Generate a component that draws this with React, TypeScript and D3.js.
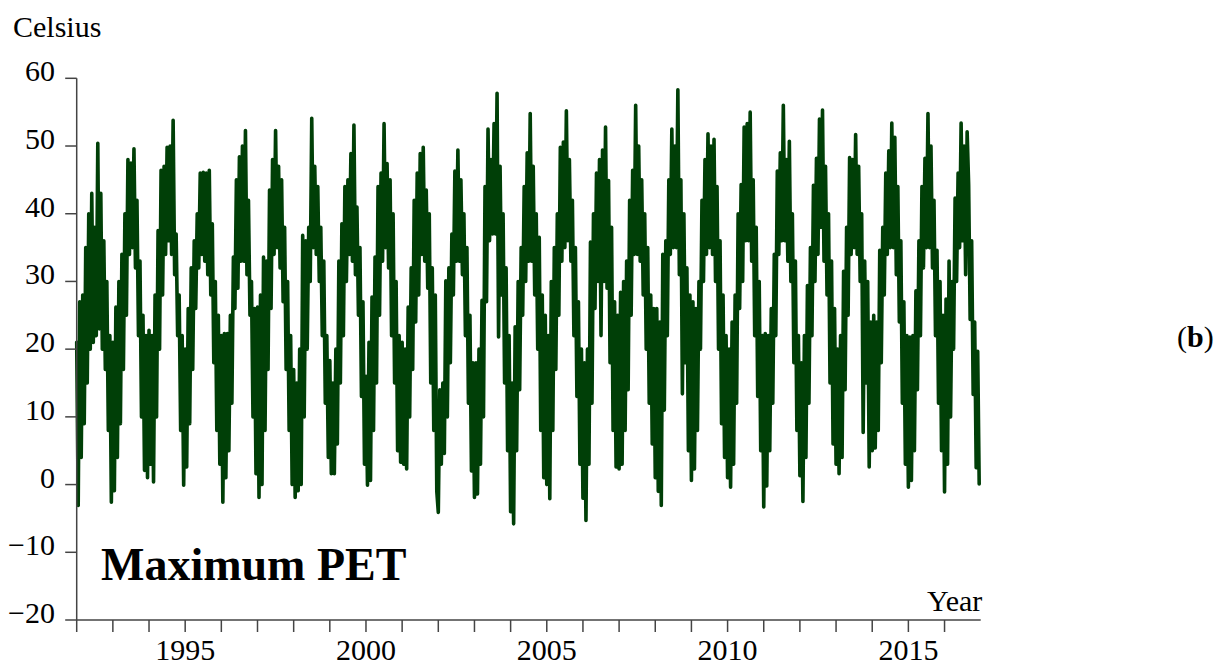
import React from "react";
import * as d3 from "d3";

// Maximum PET (Celsius) at ~half-month steps (24 samples per year),
// alternating between the upper and lower edge of the daily band.
const years = [1992, 1993, 1994, 1995, 1996, 1997, 1998, 1999, 2000, 2001, 2002, 2003, 2004, 2005, 2006, 2007, 2008, 2009, 2010, 2011, 2012, 2013, 2014, 2015, 2016];

const pet1992 = [21, -3.1, 27, 4, 28, 9, 35, 15, 40, 20, 43, 21, 38, 22, 50.4, 23, 43, 20, 36, 17, 30, 8, 22, -2.6];
const pet1993 = [21, -0.9, 26.2, 4, 30, 9, 34, 17, 40, 25, 48, 34, 47.5, 35, 49.6, 32, 42, 22, 33, 10, 25, 2.1, 22, 1];
const pet1994 = [22.8, 3, 22, 0.4, 28, 10, 37.5, 20, 46.4, 28, 47, 34, 49.8, 36, 50, 34, 53.8, 31, 37, 22, 28, 8, 22, -0.1];
const pet1995 = [20, 2.6, 26, 9, 32, 17, 36, 26, 40, 32, 46, 34, 46.1, 33, 46, 31, 46.4, 28, 38.5, 18, 30, 8, 25, 3];
const pet1996 = [22, -2.6, 22.3, 1, 22.3, 5, 25, 12, 33.6, 26, 45, 29, 48.4, 33, 50, 33, 52.3, 31, 42, 25, 30, 10, 26, 1.6];
const pet1997 = [26.2, -1.9, 28, 0, 33.6, 8, 33, 17, 43.5, 26, 48, 34, 52.3, 35, 47, 32, 45, 27, 38, 17, 30, 8, 22, 0];
const pet1998 = [17, -1.9, 15, -0.9, 20, 0, 36.8, 10, 36, 20, 38, 30, 54.1, 35, 47, 34, 44, 30, 38, 22, 33, 12, 22, 4];
const pet1999 = [18.3, 1.6, 15, 1.6, 20, 6, 33, 15, 38.5, 22, 44, 30, 45, 34, 48.9, 33, 53.1, 31, 41, 25, 35, 13, 27, 3];
const pet2000 = [16, -0.1, 21, 0.6, 27.7, 8, 33.6, 15, 44, 25, 46, 33, 53.3, 35, 47.4, 32, 45, 22, 40, 15, 30, 5, 22, 3.3];
const pet2001 = [21, 3, 20, 2.3, 26.2, 10, 32, 17, 42, 24, 46, 28, 48.9, 34, 49.8, 33, 43.5, 29, 40, 15, 32, 8, 28, -1];
const pet2002 = [-4.1, 14, 3, 15, 4.6, 30.1, 10, 32, 18, 37, 28, 46.3, 33, 49.4, 33, 45, 31, 40, 22, 35, 12, 25, 2, 18];
const pet2003 = [-1.9, 18, -1.4, 20, 3, 27.2, 10, 44, 27, 52.5, 36, 48, 37, 53.3, 37, 57.8, 21.8, 47, 28, 40, 15, 32, 5, 22];
const pet2004 = [-4, 15, -5.8, 23.3, 5, 30, 14, 35, 25, 44, 30, 49, 33, 54.8, 33, 47, 28, 40, 20, 36.5, 8, 28, 1, 25];
const pet2005 = [0, 22, -2.1, 30, 8, 35, 17, 40, 25, 49.8, 33, 50.6, 35, 55.2, 36, 48, 33, 42, 22, 35, 13, 27, 3, 20];
const pet2006 = [-2, 18, -5.3, 20, 3, 35.8, 12, 40, 26, 46, 30, 48, 22, 49.4, 30, 52.8, 29, 44.9, 18, 38, 8, 27, 2.6, 25];
const pet2007 = [2.3, 28.4, 3, 30, 8, 33, 14, 42, 25, 46.4, 34, 56, 34, 50, 33, 45, 28, 40, 20, 35, 12, 28, 6, 26];
const pet2008 = [1, 26, -1, 24, -3.1, 34, 11, 36, 22, 45, 34, 52.5, 35, 50, 35, 58.3, 31, 45, 13.4, 40, 18, 32, 5, 28];
const pet2009 = [0.6, 27, 2.3, 26, 8, 30, 20, 42, 30, 48, 34, 51.8, 35, 50, 34, 51, 30, 44, 20, 36, 9, 28, 4, 22];
const pet2010 = [1, 20, -0.4, 24, 3, 28, 12, 40, 26, 44.3, 30, 52.8, 36, 53.3, 36, 55, 33, 45, 22, 38, 13, 30, 5, 22];
const pet2011 = [-3.3, 22.3, -0.2, 22, 5, 26, 12, 34, 22, 46.3, 34, 49, 36, 56, 36, 48, 33, 50.7, 30, 40, 18, 33, 8, 22];
const pet2012 = [1.3, 18, -2.5, 22, 4, 29.4, 12, 35, 22, 44.2, 30, 48.2, 34, 54, 38, 55.3, 33, 47, 28, 40, 15, 33, 6, 26];
const pet2013 = [3, 20, 1.6, 22, 4, 31.5, 14, 38, 25, 48.3, 34, 48, 35, 51.7, 34, 47, 30, 40, 7.7, 33, 15, 30, 2.6, 24];
const pet2014 = [5, 25, 5.4, 24, 8, 34.6, 18, 38, 28, 46, 34, 49.3, 35, 53.4, 35, 51.3, 31, 44, 24, 36, 12, 27, 3, 22];
const pet2015 = [-0.4, 21.8, 0.6, 22, 5, 28.6, 14, 36, 22, 44, 32, 48.2, 35, 54.8, 35, 50, 32, 42, 22, 34.6, 12, 30, 5, 25];
const pet2016 = [-1.1, 27.4, 3, 33, 10, 30, 20, 42.3, 30, 46, 35, 53.4, 36, 50, 31, 52.1, 44.3, 24.4, 36, 13.3, 24, 2.5, 19.7, 0.1];

const yearSeries = [
  pet1992, pet1993, pet1994, pet1995, pet1996, pet1997, pet1998, pet1999, pet2000,
  pet2001, pet2002, pet2003, pet2004, pet2005, pet2006, pet2007, pet2008, pet2009,
  pet2010, pet2011, pet2012, pet2013, pet2014, pet2015, pet2016,
];

const yTickValues = [-20, -10, 0, 10, 20, 30, 40, 50, 60];
const xTickYears = [1992, 1993, 1994, 1995, 1996, 1997, 1998, 1999, 2000, 2001, 2002, 2003, 2004, 2005, 2006, 2007, 2008, 2009, 2010, 2011, 2012, 2013, 2014, 2015, 2016];
const xLabelYears = [1995, 2000, 2005, 2010, 2015];

const SAMPLES_PER_YEAR = 24;
const W = 1229;
const H = 666;
const FONT = "'Liberation Serif', 'Times New Roman', serif";
const AXIS = "#444";
const LINE = "#003f07";
const FS = 30;

export default function App() {
  const x = d3.scaleLinear().domain([1992, 2017]).range([76.7, 980.7]);
  const y = d3.scaleLinear().domain([-20, 60]).range([620, 78.3]);

  const data = yearSeries.flatMap((arr, k) =>
    arr.map((v, i) => ({ t: years[k] + i / SAMPLES_PER_YEAR, v }))
  );
  const line = d3
    .line<{ t: number; v: number }>()
    .x((d) => x(d.t))
    .y((d) => y(d.v));

  const x0 = x(1992);
  const x1 = x(2017);
  const yTop = y(60);
  const yBot = y(-20);

  return (
    <svg
      width={W}
      height={H}
      viewBox={`0 0 ${W} ${H}`}
      style={{ position: "absolute", left: 0, top: 0, background: "#fff" }}
      fontFamily={FONT}
    >
      <rect x={0} y={0} width={W} height={H} fill="#fff" />
      {/* data line */}
      <path
        d={line(data) || ""}
        fill="none"
        stroke={LINE}
        strokeWidth={3.6}
        strokeLinejoin="round"
        strokeLinecap="round"
      />
      {/* y axis */}
      <line x1={x0} x2={x0} y1={yTop} y2={yBot} stroke={AXIS} strokeWidth={1.5} />
      {yTickValues.map((v) => (
        <g key={v}>
          <line x1={x0 - 11.5} x2={x0} y1={y(v)} y2={y(v)} stroke={AXIS} strokeWidth={1.5} />
          <text x={55} y={y(v) + 3} textAnchor="end" fontSize={FS} fill="#000">
            {v < 0 ? `\u2212${Math.abs(v)}` : `${v}`}
          </text>
        </g>
      ))}
      {/* x axis */}
      <line x1={x0} x2={x1} y1={yBot} y2={yBot} stroke={AXIS} strokeWidth={1.5} />
      {xTickYears.map((yr) => (
        <line key={yr} x1={x(yr)} x2={x(yr)} y1={yBot} y2={yBot + 12} stroke={AXIS} strokeWidth={1.5} />
      ))}
      {xLabelYears.map((yr) => (
        <text key={yr} x={x(yr)} y={660} textAnchor="middle" fontSize={FS} fill="#000">
          {yr}
        </text>
      ))}
      {/* titles */}
      <text x={13} y={37} fontSize={FS} fill="#000">Celsius</text>
      <text x={927} y={611} fontSize={FS} fill="#000">Year</text>
      <text x={101} y={580} fontSize={46} fontWeight="bold" fill="#000">Maximum PET</text>
      <text x={1177} y={347} fontSize={FS} fill="#000">
        (<tspan fontWeight="bold">b</tspan>)
      </text>
    </svg>
  );
}
